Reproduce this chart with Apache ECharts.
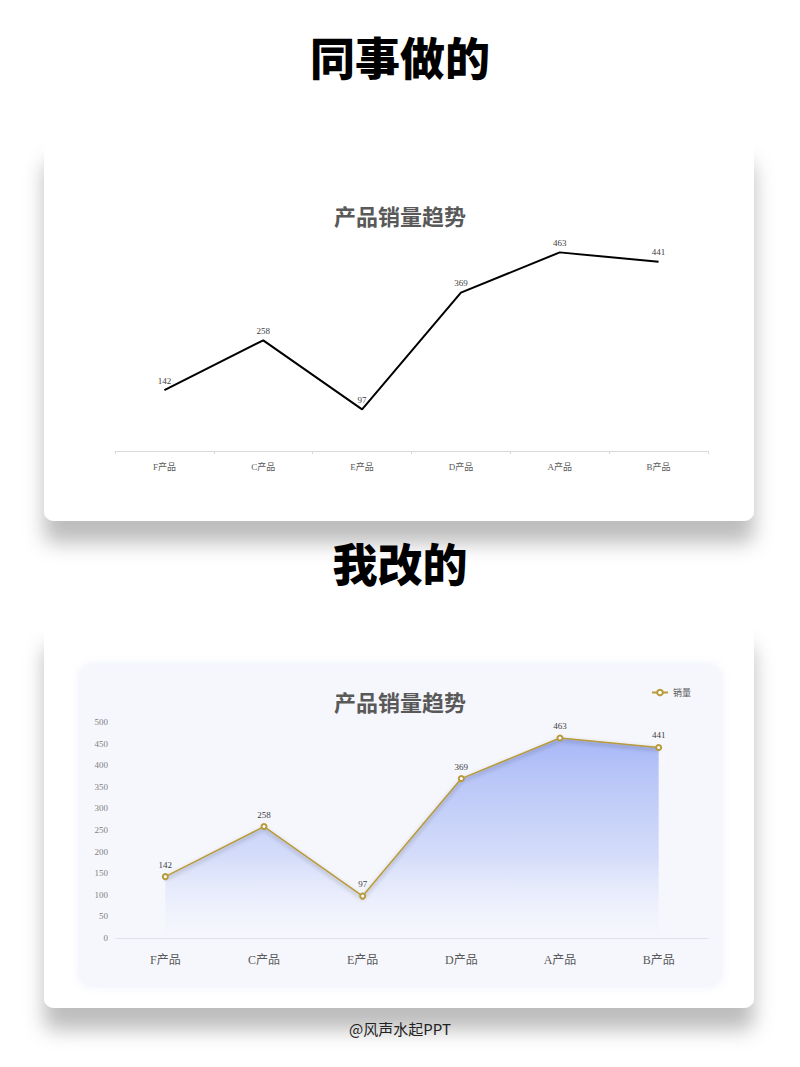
<!DOCTYPE html>
<html>
<head>
<meta charset="utf-8">
<script src="https://cdn.jsdelivr.net/npm/echarts@6/dist/echarts.min.js"></script>
<style>
html,body{margin:0;padding:0;background:#fff;}
#main{width:800px;height:1067px;}
</style>
</head>
<body>
<div id="main"></div>
<script>
const categories = ['F产品', 'C产品', 'E产品', 'D产品', 'A产品', 'B产品'];
const salesValues = [142, 258, 97, 369, 463, 441];
const chartTitle = '产品销量趋势';
const seriesName = '销量';
const headingBefore = '同事做的';
const headingAfter = '我改的';
const credit = '@风声水起PPT';
const yMin = 0, yMax = 500, yStep = 50;

const serif = '"Liberation Serif", "Noto Sans CJK SC", serif';
const cjk = '"Noto Sans CJK SC", sans-serif';

const chart = echarts.init(document.getElementById('main'), null, {renderer: 'svg', width: 800, height: 1067});

chart.setOption({
  backgroundColor: '#ffffff',
  animation: false,
  graphic: [
    {type: 'rect', z: -10, shape: {x: 44, y: 140, width: 710, height: 381, r: 10},
     style: {fill: '#ffffff', shadowColor: 'rgba(0,0,0,0.26)', shadowBlur: 20, shadowOffsetY: 22}},
    {type: 'rect', z: -10, shape: {x: 44, y: 624, width: 710, height: 384, r: 10},
     style: {fill: '#ffffff', shadowColor: 'rgba(0,0,0,0.26)', shadowBlur: 20, shadowOffsetY: 22}},
    {type: 'rect', z: -9, shape: {x: 80, y: 665, width: 641, height: 321, r: 12},
     style: {fill: '#f6f7fd', shadowColor: 'rgba(130,150,230,0.18)', shadowBlur: 8}},
    {type: 'text', left: 'center', top: 34, z: 5,
     style: {text: headingBefore, font: '900 45px "Noto Sans CJK SC"', fill: '#000'}},
    {type: 'text', left: 'center', top: 540, z: 5,
     style: {text: headingAfter, font: '900 45px "Noto Sans CJK SC"', fill: '#000'}},
    {type: 'text', left: 'center', top: 1021, z: 5,
     style: {text: credit, font: '15px "Noto Sans CJK SC"', fill: '#222'}}
  ],
  title: [
    {text: chartTitle, left: 'center', top: 199,
     textStyle: {fontFamily: cjk, fontSize: 22, fontWeight: 'bold', color: '#595959'}},
    {text: chartTitle, left: 'center', top: 685,
     textStyle: {fontFamily: cjk, fontSize: 22, fontWeight: 'bold', color: '#595959'}}
  ],
  legend: {
    data: [seriesName], right: 104, top: 683, itemWidth: 16, itemHeight: 7, itemGap: 3,
    textStyle: {fontFamily: cjk, fontSize: 9, color: '#595959'}
  },
  grid: [
    {left: 115, right: 92, top: 236.5, height: 214.5, containLabel: false},
    {left: 116, right: 92, top: 722, height: 216, containLabel: false}
  ],
  xAxis: [
    {type: 'category', gridIndex: 0, data: categories, boundaryGap: true,
     axisLine: {lineStyle: {color: '#d9d9d9'}},
     axisTick: {show: true, length: 3, lineStyle: {color: '#d9d9d9'}},
     axisLabel: {fontFamily: serif, fontSize: 9, color: '#595959', margin: 11}},
    {type: 'category', gridIndex: 1, data: categories, boundaryGap: true,
     axisLine: {lineStyle: {color: '#dfe2ec'}},
     axisTick: {show: false},
     axisLabel: {fontFamily: serif, fontSize: 12, color: '#595959', margin: 16}}
  ],
  yAxis: [
    {type: 'value', gridIndex: 0, min: yMin, max: yMax, show: false, splitLine: {show: false}},
    {type: 'value', gridIndex: 1, min: yMin, max: yMax, interval: yStep,
     axisLine: {show: false}, axisTick: {show: false}, splitLine: {show: false},
     axisLabel: {fontFamily: serif, fontSize: 9, color: '#7f7f7f', margin: 8}}
  ],
  series: [
    {name: '原图', type: 'line', xAxisIndex: 0, yAxisIndex: 0, data: salesValues,
     symbol: 'circle', symbolSize: 0.01, showSymbol: true,
     lineStyle: {color: '#000', width: 2}, itemStyle: {color: '#000'},
     label: {show: true, position: 'top', fontFamily: serif, fontSize: 9, color: '#404040', distance: 5}},
    {name: seriesName, type: 'line', xAxisIndex: 1, yAxisIndex: 1, data: salesValues,
     symbol: 'emptyCircle', symbolSize: 5,
     itemStyle: {color: '#b89a3a', borderWidth: 1},
     lineStyle: {color: '#b89a3a', width: 1.5, shadowColor: 'rgba(0,0,0,0.35)', shadowBlur: 4, shadowOffsetY: 2},
     areaStyle: {color: new echarts.graphic.LinearGradient(0, 0, 0, 1, [
       {offset: 0, color: 'rgba(128,152,243,0.95)'},
       {offset: 0.6, color: 'rgba(180,195,246,0.72)'},
       {offset: 1, color: 'rgba(246,247,253,0.3)'}
     ])},
     label: {show: true, position: 'top', fontFamily: serif, fontSize: 9, color: '#404040', distance: 4}}
  ]
});
</script>
</body>
</html>
